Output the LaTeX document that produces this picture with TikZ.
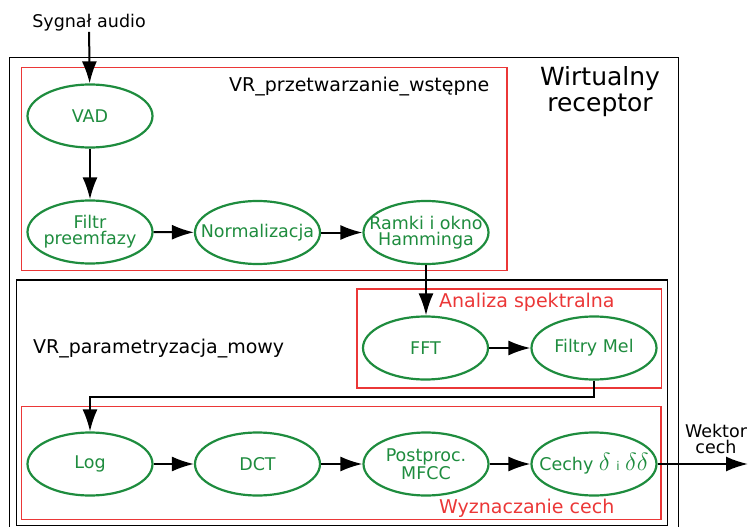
\documentclass[tikz,border=0pt]{standalone}
\usepackage{fontspec}
\setmainfont{DejaVu Sans}
\usetikzlibrary{shapes.geometric,arrows.meta}

\definecolor{procgreen}{RGB}{30,140,62}
\definecolor{grpred}{RGB}{235,55,55}

\tikzset{
  stage/.style={ellipse, draw=procgreen, line width=2.2pt, text=procgreen,
    minimum width=125pt, minimum height=63pt, inner xsep=-40pt, inner ysep=0pt,
    align=center, font=\fontsize{17.5}{16}\selectfont},
  flow/.style={-{Latex[length=22pt,width=15pt]}, line width=2pt},
  grpbox/.style={draw=grpred, line width=1.5pt},
  frame/.style={draw=black, line width=1.7pt},
  lbl/.style={inner sep=0pt, font=\fontsize{17.5}{16}\selectfont},
  grplbl/.style={inner sep=0pt, font=\fontsize{19}{20}\selectfont},
}

\begin{document}
\begin{tikzpicture}[x=1pt,y=-1pt]
\useasboundingbox (0,0) rectangle (748,527);

% frames and groups
\draw[frame] (9.5,527) -- (9.5,57.5) -- (678.5,57.5) -- (678.5,527);
\draw[frame] (16.5,280) rectangle (667.5,525.5);
\draw[grpbox] (21.5,67.5) rectangle (507,270.5);
\draw[grpbox] (357,289) rectangle (661.5,388);
\draw[grpbox] (21.5,406.5) rectangle (661,519.5);

% labels
\node[inner sep=0pt, align=center, anchor=north, font=\fontsize{25}{26}\selectfont]
  (title) at (600,66) {Wirtualny\\receptor};
\node[grplbl, anchor=base west] (pre) at (229,92) {VR\_przetwarzanie\_wstępne};
\node[grplbl, anchor=base west] (par) at (33,353) {VR\_parametryzacja\_mowy};
\node[grplbl, anchor=base west, text=grpred] (spec) at (439,307) {Analiza spektralna};
\node[grplbl, anchor=base west, text=grpred] (feat) at (439,513) {Wyznaczanie cech};
\node[lbl, anchor=base] (sig) at (89,28) {Sygnał audio};
\node[lbl, align=center, anchor=north] (vec) at (716,424) {Wektor\\cech};

% processing stages
\node[stage] (vad)   at (90,116)    {VAD};
\node[stage] (filtr) at (90,232)    {Filtr\\preemfazy};
\node[stage] (norm)  at (257.5,232.5) {Normalizacja};
\node[stage] (ramki) at (426,232.5) {Ramki i okno\\Hamminga};
\node[stage] (fft)   at (425.5,348) {FFT};
\node[stage] (mel)   at (594,348)   {Filtry Mel};
\node[stage] (log)   at (90,464)    {Log};
\node[stage] (dct)   at (257.5,464) {DCT};
\node[stage] (post)  at (426,464)   {Postproc.\\MFCC};
\node[stage] (cechy) at (594,464)
  {Cechy {\fontsize{25}{25}\selectfont$\delta$} {\fontsize{12}{12}\selectfont i} {\fontsize{25}{25}\selectfont$\delta\delta$}};

\coordinate (bend) at (594,397);
\coordinate (out) at (748,464);

% connectors
\draw[flow] (sig) -- (vad);
\draw[flow] (vad) -- (filtr);
\draw[flow] (filtr) -- (norm);
\draw[flow] (norm) -- (ramki);
\draw[flow] (ramki.south) -- (ramki.south |- fft.north);
\draw[flow] (fft) -- (mel);
\draw[flow] (mel.south) -- (bend) -| (log.north);
\draw[flow] (log) -- (dct);
\draw[flow] (dct) -- (post);
\draw[flow] (post) -- (cechy);
\draw[flow] (cechy) -- (out);
\end{tikzpicture}
\end{document}
